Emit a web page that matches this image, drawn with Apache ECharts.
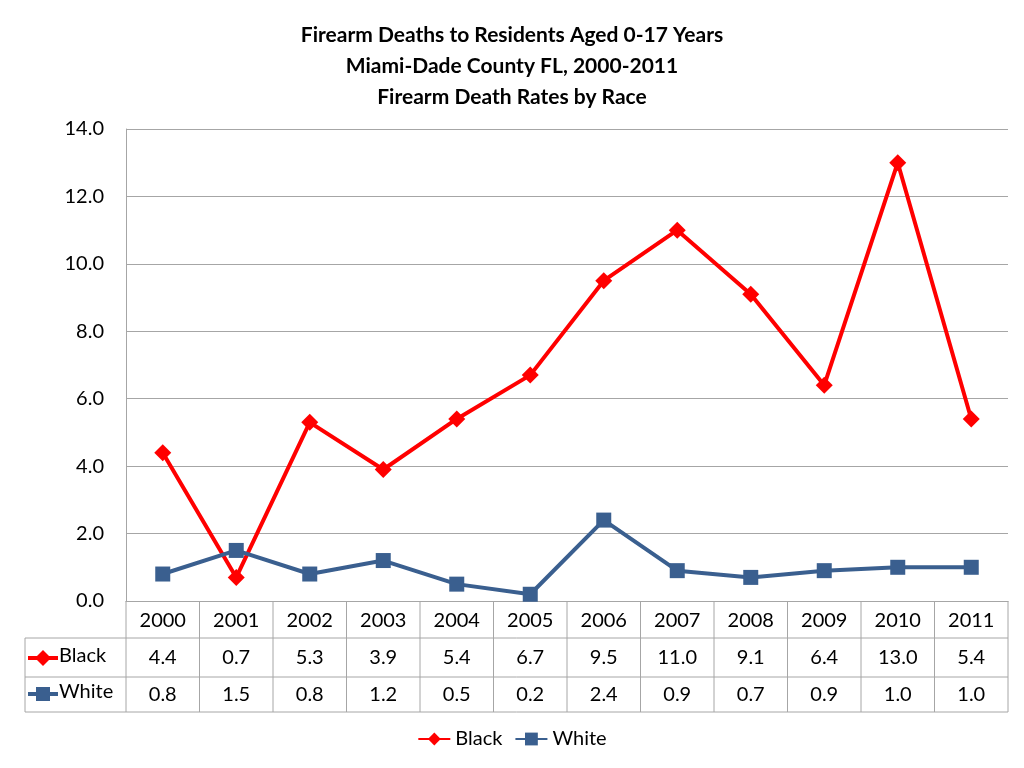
<!DOCTYPE html>
<html><head><meta charset="utf-8">
<script src="https://cdn.jsdelivr.net/npm/echarts@6/dist/echarts.min.js"></script>
<style>html,body{margin:0;padding:0;background:#fff}#c{width:1024px;height:768px}</style>
</head><body><div id="c"></div>
<script>
const years = ['2000','2001','2002','2003','2004','2005','2006','2007','2008','2009','2010','2011'];
const black = [4.4,0.7,5.3,3.9,5.4,6.7,9.5,11.0,9.1,6.4,13.0,5.4];
const white = [0.8,1.5,0.8,1.2,0.5,0.2,2.4,0.9,0.7,0.9,1.0,1.0];
const yTicks = [0,2,4,6,8,10,12,14];

const L=126,R=1008,T=129,B=601,rowH=37;
const font='Lato, "Noto Sans", sans-serif';
const lineStyle={stroke:'#a6a6a6',lineWidth:1};
const g=[];
const colW=(R-L)/years.length;
g.push({type:'line',shape:{x1:25,y1:B+rowH,x2:R,y2:B+rowH},style:lineStyle});
g.push({type:'line',shape:{x1:25,y1:B+2*rowH+2,x2:R,y2:B+2*rowH+2},style:lineStyle});
g.push({type:'line',shape:{x1:25,y1:B+111,x2:R,y2:B+111},style:lineStyle});
g.push({type:'line',shape:{x1:25,y1:B+rowH,x2:25,y2:B+111},style:lineStyle});
for(let i=0;i<=years.length;i++){const x=L+i*colW;g.push({type:'line',shape:{x1:x,y1:B,x2:x,y2:B+111},style:lineStyle});}
function key(y,color,sym){
  g.push({type:'line',shape:{x1:28,y1:y,x2:58,y2:y},style:{stroke:color,lineWidth:4}});
  if(sym==='d') g.push({type:'polygon',shape:{points:[[43,y-8],[51,y],[43,y+8],[35,y]]},style:{fill:color}});
  else g.push({type:'rect',shape:{x:36,y:y-7,width:14,height:14},style:{fill:color}});
}
key(B+57,'#ff0000','d'); key(B+93,'#3a5f8f','s');
g.push({type:'text',left:59,top:B+45,style:{text:'Black',font:'20px '+font,fill:'#000'}});
g.push({type:'text',left:59,top:B+81,style:{text:'White',font:'20px '+font,fill:'#000'}});

const chart=echarts.init(document.getElementById('c'));
const lbl={fontSize:20,fontFamily:font,color:'#000'};
chart.setOption({
  animation:false,
  title:{text:'Firearm Deaths to Residents Aged 0-17 Years\nMiami-Dade County FL, 2000-2011\nFirearm Death Rates by Race',
    left:'center',top:15,textStyle:{fontSize:21,fontWeight:'bold',fontFamily:font,lineHeight:31,color:'#000'}},
  legend:{bottom:14,itemWidth:32,itemHeight:16,itemGap:12,textStyle:lbl,data:['Black','White']},
  grid:{left:L,right:1024-R,top:T,bottom:768-B},
  xAxis:[
    {type:'category',data:years,boundaryGap:true,axisLine:{lineStyle:{color:'#a6a6a6'}},axisTick:{show:false},axisLabel:{...lbl,margin:10}},
    {type:'category',data:years,position:'bottom',offset:rowH,axisLine:{show:false},axisTick:{show:false},axisLabel:{...lbl,margin:10,formatter:(v,i)=>black[i].toFixed(1)}},
    {type:'category',data:years,position:'bottom',offset:2*rowH,axisLine:{show:false},axisTick:{show:false},axisLabel:{...lbl,margin:10,formatter:(v,i)=>white[i].toFixed(1)}}
  ],
  yAxis:{type:'value',min:yTicks[0],max:yTicks[yTicks.length-1],interval:2,
    axisLine:{show:true,lineStyle:{color:'#a6a6a6'}},axisTick:{show:false},
    splitLine:{lineStyle:{color:'#a6a6a6'}},axisLabel:{...lbl,margin:22,formatter:v=>v.toFixed(1)}},
  series:[
    {name:'Black',type:'line',data:black,symbol:'diamond',symbolSize:17,color:'#ff0000',lineStyle:{width:4}},
    {name:'White',type:'line',data:white,symbol:'rect',symbolSize:15,color:'#3a5f8f',lineStyle:{width:4}}
  ],
  graphic:g
});
</script></body></html>
